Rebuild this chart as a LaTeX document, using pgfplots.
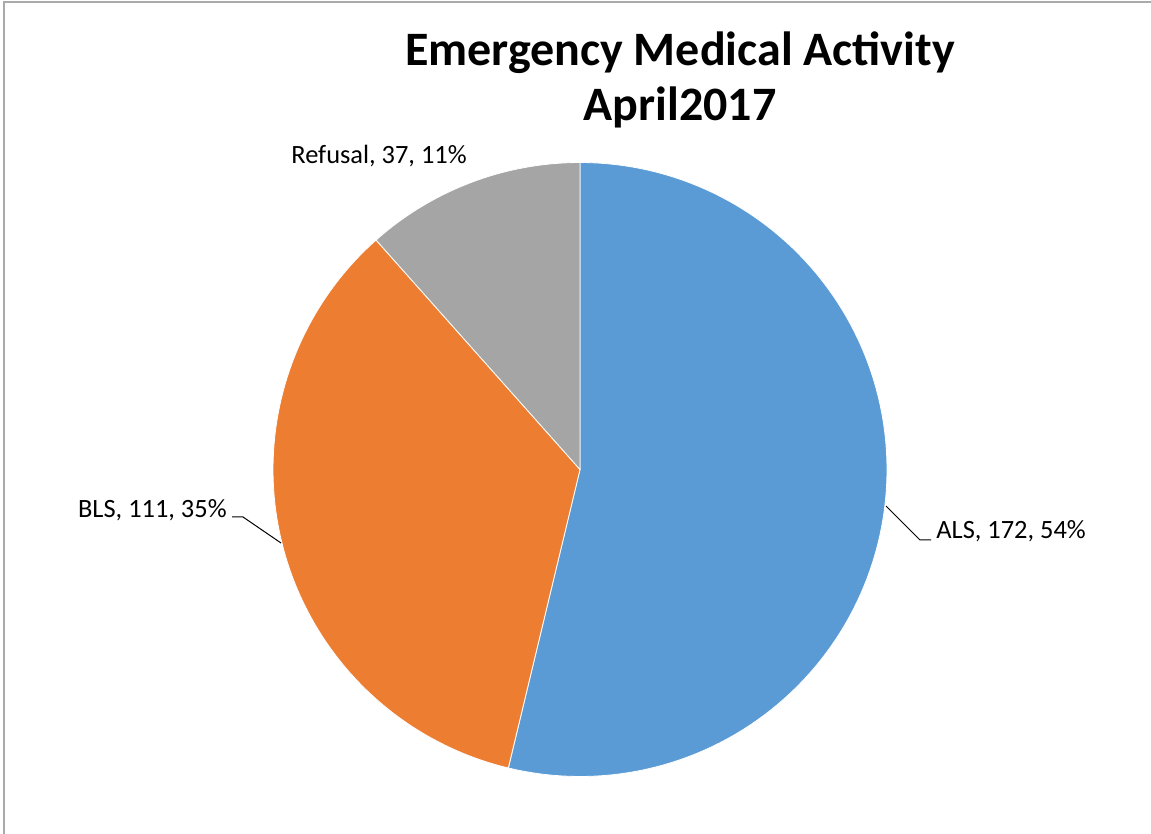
\documentclass[border=0pt]{standalone}
\usepackage{pgfplots}
\usepackage{pgfplotstable}
\pgfplotsset{compat=1.18}
\usepackage{fontspec}
\setmainfont{Carlito}
\definecolor{alsblue}{HTML}{5B9BD5}
\definecolor{blsorange}{HTML}{ED7D31}
\definecolor{refgray}{HTML}{A5A5A5}
\definecolor{framegray}{HTML}{AAAAAA}
\pgfplotstableread{
label value
ALS 172
BLS 111
Refusal 37
}\piedata
\pgfplotstablegetelem{0}{value}\of\piedata \let\vA\pgfplotsretval%
\pgfplotstablegetelem{1}{value}\of\piedata \let\vB\pgfplotsretval%
\pgfplotstablegetelem{2}{value}\of\piedata \let\vC\pgfplotsretval%
\pgfmathsetmacro\tot{\vA+\vB+\vC}%
\pgfmathsetmacro\aB{90-360*(\vA/\tot)}%
\pgfmathsetmacro\aC{\aB-360*(\vB/\tot)}%
\pgfmathsetmacro\aD{\aC-360*(\vC/\tot)}%
\def\cx{580}\def\cy{364.5}\def\rr{307}%
\begin{document}%
\begin{tikzpicture}
\begin{axis}[
  name=ax,
  scale only axis, width=575.5pt, height=417pt,
  xmin=0, xmax=1151, ymin=0, ymax=834,
  hide axis, clip=false,
]
\path[fill=white] (axis cs:-10,-10) rectangle (axis cs:1161,844);
\draw[framegray, line width=1pt] (axis cs:4,-10) -- (axis cs:4,831.5) -- (axis cs:1161,831.5);
\addplot[fill=alsblue, draw=white, line width=0.4pt, domain=\aB:90, samples=120, variable=\t]
  ({\cx+\rr*cos(t)},{\cy+\rr*sin(t)}) -- (axis cs:\cx,\cy) -- cycle;
\addplot[fill=blsorange, draw=white, line width=0.4pt, domain=\aC:\aB, samples=90, variable=\t]
  ({\cx+\rr*cos(t)},{\cy+\rr*sin(t)}) -- (axis cs:\cx,\cy) -- cycle;
\addplot[fill=refgray, draw=white, line width=0.4pt, domain=\aD:\aC, samples=40, variable=\t]
  ({\cx+\rr*cos(t)},{\cy+\rr*sin(t)}) -- (axis cs:\cx,\cy) -- cycle;
\node[font=\fontsize{24}{29}\selectfont\bfseries, anchor=base] at (axis cs:680,768) {Emergency Medical Activity};
\node[font=\fontsize{24}{29}\selectfont\bfseries, anchor=base] at (axis cs:680,713) {April2017};
\node[font=\fontsize{13.2}{16}\selectfont, anchor=base west, inner sep=0pt] at (axis cs:291,670) {Refusal, 37, 11\%};
\node[font=\fontsize{13.2}{16}\selectfont, anchor=base east, inner sep=0pt] at (axis cs:227,316) {BLS, 111, 35\%};
\node[font=\fontsize{13.2}{16}\selectfont, anchor=base west, inner sep=0pt] at (axis cs:936,295) {ALS, 172, 54\%};
\draw[black, line width=0.5pt] (axis cs:232,317) -- (axis cs:243,317) -- (axis cs:281,291);
\draw[black, line width=0.5pt] (axis cs:886,328) -- (axis cs:920,294) -- (axis cs:931,294);
\end{axis}
\pgfresetboundingbox
\path (ax.south west) rectangle (ax.north east);
\end{tikzpicture}%
\end{document}
